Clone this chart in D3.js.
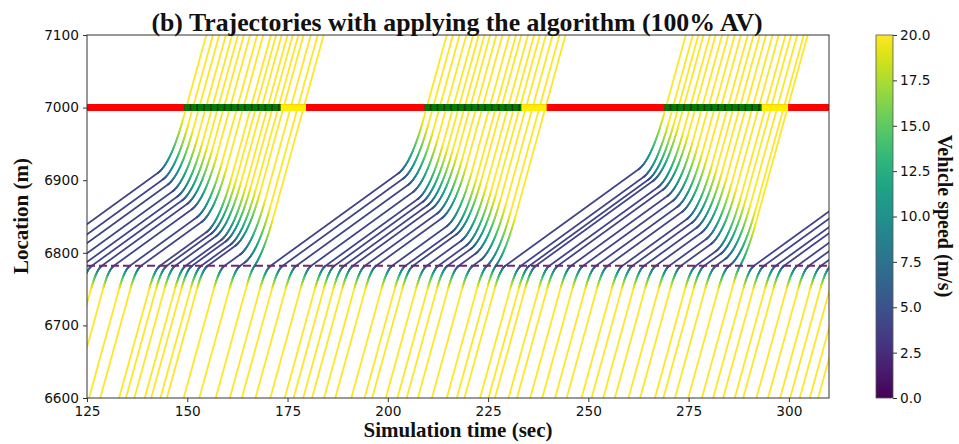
<!DOCTYPE html>
<html>
<head>
<meta charset="utf-8">
<script src="https://cdn.jsdelivr.net/npm/d3@7"></script>
<style>
  body { margin: 0; background: #fff; }
  svg text { fill: #111; }
</style>
</head>
<body>
<div id="chart"></div>
<script>
// time (s) each vehicle passes 6600 m at free speed
const entryTimes = [
  100.5, 104, 107, 110.5, 113.5, 116, 118.5, 121.5, 125.5, 128.3, 133, 134.7, 136.8, 139.4, 141, 143.3, 144.9, 149.1, 153, 157.1,
  160.6, 163.6, 167, 170.7, 174.3, 176.5, 178.9, 181.1, 184.1, 186.9, 190.9, 194.2, 196.1, 199.5, 202.4, 204.7, 207.5, 211, 214.7, 217.2,
  219.1, 223.0, 225.1, 226.7, 230.1, 232.2, 235.5, 238.5, 241.7, 244.6, 248.3, 250.8, 253.7, 256.6, 260, 262.9, 266.6, 268.7, 271.6, 274.9, 278.3,
  281.1, 283.6, 286.5, 288.6, 291.9, 294.8, 297.8, 300.3, 302.7, 305.2, 307.3
];
// time (s) each vehicle passes the stop line at 7000 m
const exitTimes = [
  149.75, 151.41, 152.97, 154.63, 156.19, 157.65, 159.11, 160.67, 162.43, 163.95, 165.85, 167.15, 168.53, 170.01, 171.29, 172.71, 173.99, 175.79, 177.53, 179.0,
  209.69, 211.25, 212.89, 214.59, 216.27, 217.67, 219.11, 220.51, 222.07, 223.59, 225.35, 226.97, 228.31, 229.95, 231.49, 232.91, 234.43, 236.09, 237.79, 239.3,
  269.31, 271.05, 272.43, 273.71, 275.35, 276.73, 278.35, 279.91, 281.51, 283.05, 284.75, 286.21, 287.75, 289.29, 290.93, 292.47, 294.17, 295.55, 297.09, 298.71, 299.7,
  329.71, 331.17, 332.71, 334.09, 335.71, 337.25, 338.81, 340.27, 341.71, 343.17, 344.55
];
// lowest speed (m/s) reached by each vehicle
const minSpeeds = [
  4, 4, 4, 4, 4, 4, 4, 4, 4, 4, 4, 4, 4, 4, 4, 4, 4, 4, 4, 8.4,
  4, 4, 4, 4, 4, 4, 4, 4, 4, 4, 4, 4, 4, 4, 4, 4, 4, 4, 5.2, 7.8,
  4, 4, 4, 4, 4, 4, 4, 4, 4, 4, 4, 4, 4, 4, 4, 4, 4, 4, 4, 4, 10.1,
  4, 4, 4, 4, 4, 4, 4, 4, 4, 4, 4
];
// signal timing at the stop line
const greenStart = [149.3, 209.2, 269.0];
const yellowStart = [173.3, 233.3, 293.2];
const redStart = [179.6, 239.6, 299.8];

const xTicks = [125, 150, 175, 200, 225, 250, 275, 300];
const yTicks = [6600, 6700, 6800, 6900, 7000, 7100];
const speedTicks = [0, 2.5, 5, 7.5, 10, 12.5, 15, 17.5, 20];

const entryLoc = 6600, controlLoc = 6782, stopLoc = 7000;
const vFree = 20, decel = 6, accel = 2.5;

const W = 959, H = 444;
const x = d3.scaleLinear().domain([125, 310]).range([87, 829]);
const y = d3.scaleLinear().domain([6600, 7100]).range([398, 35]);
const color = d3.scaleSequential(d3.interpolateViridis).domain([0, 20]);

const svg = d3.select('#chart').append('svg').attr('width', W).attr('height', H);

svg.append('clipPath').attr('id', 'plot-clip')
  .append('rect').attr('x', 87).attr('y', 35).attr('width', 742).attr('height', 363);

// piecewise motion: cruise, brake to min speed at control point, hold, speed up
function motion(te, tx, vm) {
  if (vm >= vFree) return t => [entryLoc + vFree * (t - te), vFree];
  const sd = (vFree * vFree - vm * vm) / (2 * decel), td = (vFree - vm) / decel;
  const sa = (vFree * vFree - vm * vm) / (2 * accel), ta = (vFree - vm) / accel;
  const tc = Math.max(0, (tx - te - (stopLoc - entryLoc - sd - sa) / vFree - td - ta) / (1 - vm / vFree));
  const t1 = te + (controlLoc - sd - entryLoc) / vFree;
  const t2 = t1 + td, t3 = t2 + tc, t4 = t3 + ta;
  const x3 = controlLoc + vm * tc, x4 = x3 + sa;
  return t => {
    if (t <= t1) return [entryLoc + vFree * (t - te), vFree];
    if (t <= t2) { const d = t - t1; return [controlLoc - sd + vFree * d - decel * d * d / 2, vFree - decel * d]; }
    if (t <= t3) return [controlLoc + vm * (t - t2), vm];
    if (t <= t4) { const d = t - t3; return [x3 + vm * d + accel * d * d / 2, vm + accel * d]; }
    return [x4 + vFree * (t - t4), vFree];
  };
}

const line = d3.line().x(d => x(d[0])).y(d => y(d[1]));
const trajG = svg.append('g').attr('clip-path', 'url(#plot-clip)')
  .attr('fill', 'none').attr('stroke-width', 1.8).attr('stroke-linecap', 'round');

entryTimes.forEach((te, i) => {
  const f = motion(te, exitTimes[i], minSpeeds[i]);
  const chunks = [];
  let cur = null, bin = null;
  for (let t = Math.max(te, 124); t <= 311; t += 0.05) {
    const [loc, v] = f(t);
    const b = Math.round(v * 4) / 4;
    const p = [t, loc];
    if (b !== bin) {
      if (cur) { cur.pts.push(p); chunks.push(cur); }
      cur = { v: b, pts: [p] };
      bin = b;
    } else cur.pts.push(p);
    if (loc > 7105) break;
  }
  if (cur) chunks.push(cur);
  chunks.forEach(c => {
    if (c.pts.length < 2) return;
    trajG.append('path').attr('d', line(c.pts)).attr('stroke', color(c.v));
  });
});

// control point line
svg.append('line')
  .attr('x1', x(125)).attr('x2', x(310))
  .attr('y1', y(controlLoc)).attr('y2', y(controlLoc))
  .attr('stroke', '#722a6e').attr('stroke-width', 2).attr('stroke-dasharray', '8,4');

// signal bar
const sigG = svg.append('g').attr('clip-path', 'url(#plot-clip)');
sigG.append('line')
  .attr('x1', x(125)).attr('x2', x(310)).attr('y1', y(stopLoc)).attr('y2', y(stopLoc))
  .attr('stroke', '#ff0000').attr('stroke-width', 7);
greenStart.forEach((g, i) => {
  sigG.append('line')
    .attr('x1', x(g)).attr('x2', x(yellowStart[i])).attr('y1', y(stopLoc)).attr('y2', y(stopLoc))
    .attr('stroke', '#1f3d10').attr('stroke-width', 7);
  sigG.append('line')
    .attr('x1', x(g)).attr('x2', x(yellowStart[i])).attr('y1', y(stopLoc)).attr('y2', y(stopLoc))
    .attr('stroke', '#007a00').attr('stroke-width', 7).attr('stroke-dasharray', '5.2,1.6');
  sigG.append('line')
    .attr('x1', x(yellowStart[i])).attr('x2', x(redStart[i])).attr('y1', y(stopLoc)).attr('y2', y(stopLoc))
    .attr('stroke', '#ffee00').attr('stroke-width', 7);
});

// frame and axes
svg.append('rect').attr('x', 87).attr('y', 35).attr('width', 742).attr('height', 363)
  .attr('fill', 'none').attr('stroke', '#333').attr('stroke-width', 1);

const xAxis = svg.append('g').attr('transform', 'translate(0,398)')
  .call(d3.axisBottom(x).tickValues(xTicks).tickSize(4).tickPadding(4).tickFormat(d3.format('d')));
const yAxis = svg.append('g').attr('transform', 'translate(87,0)')
  .call(d3.axisLeft(y).tickValues(yTicks).tickSize(4).tickPadding(4).tickFormat(d3.format('d')));
[xAxis, yAxis].forEach(a => {
  a.select('.domain').remove();
  a.selectAll('line').attr('stroke', '#333');
  a.selectAll('text').attr('font-family', 'DejaVu Sans, sans-serif').attr('font-size', 13.7).attr('fill', '#111');
});

const serif = 'Liberation Serif, Times New Roman, serif';
svg.append('text').attr('x', 457).attr('y', 31).attr('text-anchor', 'middle')
  .attr('font-family', serif).attr('font-weight', 'bold').attr('font-size', 25.8)
  .text('(b) Trajectories with applying the algorithm (100% AV)');
svg.append('text').attr('x', 458).attr('y', 437).attr('text-anchor', 'middle')
  .attr('font-family', serif).attr('font-weight', 'bold').attr('font-size', 21)
  .text('Simulation time (sec)');
svg.append('text').attr('transform', 'translate(28,216) rotate(-90)').attr('text-anchor', 'middle')
  .attr('font-family', serif).attr('font-weight', 'bold').attr('font-size', 21)
  .text('Location (m)');

// colorbar
const cbX = 876, cbW = 17;
const sScale = d3.scaleLinear().domain([0, 20]).range([398, 35]);
const grad = svg.append('defs').append('linearGradient').attr('id', 'cb-grad')
  .attr('x1', 0).attr('y1', 1).attr('x2', 0).attr('y2', 0);
d3.range(0, 1.0001, 0.05).forEach(s => {
  grad.append('stop').attr('offset', s).attr('stop-color', d3.interpolateViridis(s));
});
svg.append('rect').attr('x', cbX).attr('y', 35).attr('width', cbW).attr('height', 363)
  .attr('fill', 'url(#cb-grad)').attr('stroke', '#555').attr('stroke-width', 0.8);
const cAxis = svg.append('g').attr('transform', `translate(${cbX + cbW},0)`)
  .call(d3.axisRight(sScale).tickValues(speedTicks).tickSize(4).tickPadding(3).tickFormat(d3.format('.1f')));
cAxis.select('.domain').remove();
cAxis.selectAll('line').attr('stroke', '#333');
cAxis.selectAll('text').attr('font-family', 'DejaVu Sans, sans-serif').attr('font-size', 13.7).attr('fill', '#111');
svg.append('text').attr('transform', 'translate(938,216) rotate(90)').attr('text-anchor', 'middle')
  .attr('font-family', serif).attr('font-weight', 'bold').attr('font-size', 20)
  .text('Vehicle speed (m/s)');
</script>
</body>
</html>
